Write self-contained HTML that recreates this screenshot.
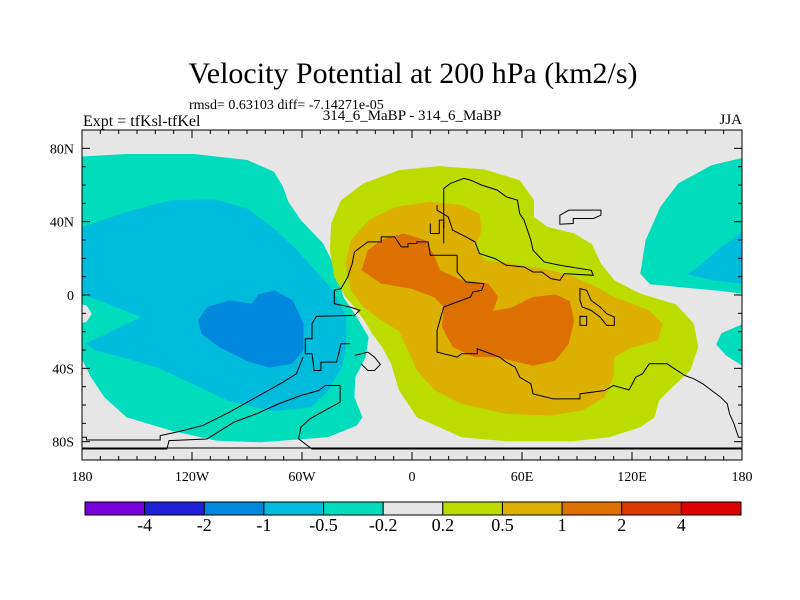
<!DOCTYPE html>
<html><head><meta charset="utf-8"><style>
body{margin:0;background:#fff;}
svg{display:block;font-family:"Liberation Serif",serif;}
</style></head><body>
<svg id="fig" width="800" height="600" viewBox="0 0 800 600">
<text x="413" y="83" font-size="30" text-anchor="middle">Velocity Potential at 200 hPa (km2/s)</text>
<text x="189" y="109" font-size="14">rmsd= 0.63103 diff= -7.14271e-05</text>
<text x="83" y="126" font-size="16">Expt = tfKsl-tfKel</text>
<text x="412" y="120" font-size="15" text-anchor="middle">314_6_MaBP - 314_6_MaBP</text>
<text x="742" y="124" font-size="15" text-anchor="end">JJA</text>

<g>
<rect x="82" y="130" width="660" height="330" fill="#e6e6e6"/>
<clipPath id="mc"><rect x="82" y="130" width="660" height="330"/></clipPath>
<g clip-path="url(#mc)">
<g transform="translate(82,130) scale(0.4466,0.334) translate(-50,-120)">
<path fill="#00dcbc" d="M40,200 L150,192 L300,192 L420,210 L480,245 L500,290 L512,335 L540,390 L590,460 L620,540 L635,620 L665,680 L692,740 L685,800 L662,860 L660,920 L678,980 L665,1005 L600,1040 L450,1055 L350,1050 L250,1020 L150,980 L100,920 L70,860 L40,780 Z"/>
<path fill="#e6e6e6" d="M40,640 L60,645 L72,670 L60,695 L40,700 Z"/>
<path fill="#00bcdc" d="M40,415 L150,365 L250,330 L350,328 L420,355 L480,415 L530,478 L572,540 L612,600 L642,680 L642,760 L632,830 L602,900 L562,950 L480,962 L380,932 L300,882 L220,832 L140,800 L80,780 L58,760 L182,680 L52,612 L40,612 Z"/>
<path fill="#0088dc" d="M310,690 L330,650 L380,630 L430,640 L445,612 L480,600 L522,630 L546,700 L546,780 L520,820 L470,832 L420,812 L360,772 L318,732 Z"/>
<path fill="#00dcbc" d="M1540,200 L1460,225 L1385,280 L1345,350 L1312,450 L1300,550 L1322,582 L1400,592 L1480,602 L1540,612 Z"/>
<path fill="#00bcdc" d="M1540,415 L1482,470 L1422,538 L1405,552 L1460,570 L1540,582 Z"/>
<path fill="#00dcbc" d="M1540,695 L1482,728 L1470,762 L1492,795 L1540,835 Z"/>
<path fill="#bcdc00" d="M608,400 L630,330 L680,280 L760,240 L850,228 L950,238 L1030,270 L1062,330 L1062,380 L1092,410 L1152,430 L1192,462 L1212,520 L1242,570 L1300,610 L1380,642 L1420,700 L1430,770 L1412,840 L1372,890 L1342,930 L1332,980 L1300,1010 L1230,1040 L1150,1052 L1000,1052 L900,1040 L800,980 L760,900 L742,820 L722,770 L700,730 L682,690 L660,650 L640,620 L615,560 L605,480 Z"/>
<path fill="#dcb000" d="M640,520 L652,450 L692,390 L752,350 L830,335 L900,345 L940,370 L945,420 L930,470 L952,510 L1010,520 L1100,540 L1152,560 L1202,590 L1242,620 L1320,660 L1350,700 L1340,750 L1280,772 L1242,800 L1240,860 L1220,920 L1170,960 L1100,975 L1000,970 L900,940 L840,900 L800,840 L780,780 L760,722 L720,690 L680,650 L652,600 Z"/>
<path fill="#dc7000" d="M676,540 L690,480 L722,448 L770,430 L820,450 L840,500 L852,540 L900,570 L960,580 L982,620 L970,662 L1010,652 L1060,620 L1110,612 L1142,632 L1152,690 L1140,760 L1110,810 L1060,826 L980,800 L930,800 L880,770 L856,710 L860,650 L840,622 L790,596 L720,580 Z"/>
<g fill="none" stroke="#000" stroke-width="1">
<path vector-effect="non-scaling-stroke" d="M660,485 L690,455 L720,455 L720,440 L750,440 L765,470 L780,470 L780,460 L800,460 L800,455 L825,455 L830,495 L890,495 L890,545 L910,575 L950,580 L945,600 L925,605 L920,620 L890,635 L860,650 L845,720 L845,785 L890,800 L900,790 L935,790 L935,775 L985,800 L1000,815 L1020,830 L1030,860 L1055,880 L1060,910 L1105,925 L1165,925 L1165,910 L1220,900 L1240,885 L1275,898 L1290,860 L1305,850 L1320,820 L1360,820 L1400,855 L1420,865 L1440,880 L1460,900 L1480,920 L1495,940 L1500,970 L1510,1000 L1520,1040 L1528,1040"/>
<path vector-effect="non-scaling-stroke" d="M660,485 L655,520 L645,560 L630,595 L615,600 L615,640 L650,650 L672,660 L660,675 L575,678 L565,700 L565,745 L550,745 L550,790 L565,790 L570,840 L585,840 L585,815 L620,815 L630,760 L650,760"/>
<path vector-effect="non-scaling-stroke" d="M545,800 L530,850 L500,875 L460,905 L420,935 L380,965 L320,1005 L270,1022 L225,1035 L225,1048 L60,1048 L60,1040 L50,1040"/>
<path vector-effect="non-scaling-stroke" d="M628,885 L595,885 L580,900 L540,915 L490,940 L440,970 L390,995 L330,1045 L245,1050 L240,1075 L50,1075"/>
<path vector-effect="non-scaling-stroke" d="M628,885 L628,935 L600,955 L560,985 L540,1010 L535,1045 L565,1075 L1540,1075"/>
<path vector-effect="non-scaling-stroke" d="M660,795 L690,785 L705,800 L718,822 L705,840 L690,840 L675,820"/>
<path vector-effect="non-scaling-stroke" d="M860,460 L860,295 L875,280 L905,265 L920,270 L945,285 L980,300 L1000,320 L1025,330 L1030,370 L1040,390 L1055,450 L1060,480 L1085,515 L1120,525 L1190,540 L1195,555 L1130,550 L1120,570 L1100,565 L1080,545 L1060,545 L1040,530 L1000,525 L975,505 L940,490 L930,455 L910,440 L880,420 L870,380 L845,360 L845,345"/>
<path vector-effect="non-scaling-stroke" d="M830,400 L830,430 L850,430 L850,390 L860,390 L860,415"/>
<path vector-effect="non-scaling-stroke" d="M1120,375 L1140,360 L1212,360 L1212,375 L1195,385 L1150,385 L1150,400 L1120,402 Z"/>
<path vector-effect="non-scaling-stroke" d="M1165,595 L1180,600 L1190,630 L1210,650 L1225,670 L1242,680 L1242,705 L1225,705 L1210,680 L1190,660 L1170,650 L1165,630 Z"/>
<path vector-effect="non-scaling-stroke" d="M1165,678 L1180,678 L1180,705 L1165,705 Z"/>
</g>
</g>
<line x1="82" y1="448" x2="742" y2="448" stroke="#000" stroke-width="1"/>
</g>
<g id="ticks"></g>
<rect x="82" y="130" width="660" height="330" fill="none" stroke="#000" stroke-width="1"/>
<g id="labels" font-size="14"></g>
</g>
<g id="cbar"></g>
</svg>
<script>
const cbColors = ["#7a00dc","#2020d8","#0088dc","#00bcdc","#00dcbc","#e6e6e6","#bcdc00","#dcb000","#dc7000","#dc3a00","#dc0000"];
const cbLevels = ["-4","-2","-1","-0.5","-0.2","0.2","0.5","1","2","4"];
const lonTicks = [-180,-120,-60,0,60,120,180];
const lonLabels = ["180","120W","60W","0","60E","120E","180"];
const latTicks = [80,40,0,-40,-80];
const latLabels = ["80N","40N","0","40S","80S"];
const NS="http://www.w3.org/2000/svg";
const X0=82,X1=742,Y0=130,Y1=460;
function xLon(l){return X0+(l+180)/360*(X1-X0);}
function yLat(l){return Y0+(90-l)/180*(Y1-Y0);}
function mk(t,a,p){const e=document.createElementNS(NS,t);for(const k in a)e.setAttribute(k,a[k]);p.appendChild(e);return e;}
const tk=document.getElementById('ticks'), lb=document.getElementById('labels');
for(let l=-180;l<=180;l+=10){
  const major=(l%60===0), len=major?8:4, x=xLon(l);
  const a=mk('line',{x1:x,y1:Y0,x2:x,y2:Y0+len,stroke:'#000'},tk);
  
  
  const b=mk('line',{x1:x,y1:Y1,x2:x,y2:Y1-len,stroke:'#000'},tk);
  
  
}
for(let l=-90;l<=90;l+=10){
  const major=(l%40===0), len=major?8:4, y=yLat(l);
  const a=mk('line',{x1:X0,y1:y,x2:X0+len,y2:y,stroke:'#000'},tk);
  
  
  const b=mk('line',{x1:X1,y1:y,x2:X1-len,y2:y,stroke:'#000'},tk);
  
  
}
lonTicks.forEach((l,i)=>{
  const t=mk('text',{x:xLon(l),y:481,'text-anchor':'middle'},lb);
  t.textContent=lonLabels[i];
  
  
});
latTicks.forEach((l,i)=>{
  const t=mk('text',{x:74,y:yLat(l)+5,'text-anchor':'end'},lb);
  t.textContent=latLabels[i];
  
  
});
const cb=document.getElementById('cbar');
const CX0=85,CX1=741,CY=502,CH=13,bw=(CX1-CX0)/cbColors.length;
cbColors.forEach((c,i)=>{
  const r=mk('rect',{x:CX0+i*bw,y:CY,width:bw,height:CH,fill:c,stroke:'#000','stroke-width':1},cb);
  
  
});
cbLevels.forEach((v,i)=>{
  const t=mk('text',{x:CX0+(i+1)*bw,y:531,'text-anchor':'middle','font-size':18},cb);
  t.textContent=v;
  
  
});
</script>
</body></html>
